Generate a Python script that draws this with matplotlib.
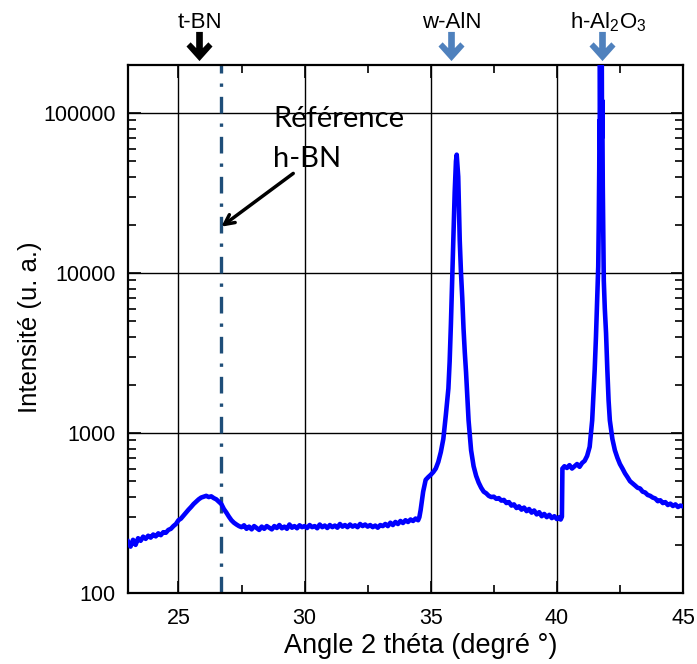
import matplotlib
matplotlib.use("Agg")
import matplotlib.pyplot as plt
from matplotlib.path import Path
from matplotlib.ticker import FixedLocator, LogLocator, NullFormatter

# ---------------- data ----------------
angle = [
    23.0, 23.1, 23.2, 23.3, 23.4, 23.5, 23.6, 23.7, 23.8, 23.9,
    24.0, 24.1, 24.2, 24.3, 24.4, 24.5, 24.6, 24.7, 24.8, 24.9,
    25.0, 25.1, 25.2, 25.3, 25.4, 25.5, 25.6, 25.7, 25.8, 25.9,
    26.0, 26.1, 26.2, 26.3, 26.4, 26.5, 26.6, 26.7, 26.8, 26.9,
    27.0, 27.1, 27.2, 27.3, 27.4, 27.5, 27.6, 27.7, 27.8, 27.9,
    28.0, 28.1, 28.2, 28.3, 28.4, 28.5, 28.6, 28.7, 28.8, 28.9,
    29.0, 29.1, 29.2, 29.3, 29.4, 29.5, 29.6, 29.7, 29.8, 29.9,
    30.0, 30.1, 30.2, 30.3, 30.4, 30.5, 30.6, 30.7, 30.8, 30.9,
    31.0, 31.1, 31.2, 31.3, 31.4, 31.5, 31.6, 31.7, 31.8, 31.9,
    32.0, 32.1, 32.2, 32.3, 32.4, 32.5, 32.6, 32.7, 32.8, 32.9,
    33.0, 33.1, 33.2, 33.3, 33.4, 33.5, 33.6, 33.7, 33.8, 33.9,
    34.0, 34.1, 34.2, 34.3, 34.4, 34.5, 34.55, 34.6, 34.7, 34.8, 34.9,
    35.0, 35.1, 35.2, 35.3, 35.4, 35.5, 35.6, 35.7, 35.75, 35.8, 35.85,
    35.9, 35.95, 36.0, 36.03, 36.06, 36.09, 36.12, 36.15, 36.2, 36.25,
    36.3, 36.35, 36.4, 36.45, 36.5, 36.55, 36.6, 36.7, 36.8, 36.9,
    37.0, 37.1, 37.2, 37.3, 37.4, 37.5, 37.6, 37.7, 37.8, 37.9,
    38.0, 38.1, 38.2, 38.3, 38.4, 38.5, 38.6, 38.7, 38.8, 38.9,
    39.0, 39.1, 39.2, 39.3, 39.4, 39.5, 39.6, 39.7, 39.8, 39.9,
    40.0, 40.1, 40.15, 40.2, 40.22, 40.3, 40.4, 40.5, 40.6, 40.7,
    40.8, 40.9, 41.0, 41.1, 41.2, 41.3, 41.4, 41.5, 41.55, 41.6,
    41.64, 41.66, 41.68, 41.69, 41.70, 41.71, 41.72, 41.73, 41.75, 41.76,
    41.77, 41.78, 41.79, 41.80, 41.82, 41.84, 41.86,
    41.9, 41.95, 42.0, 42.05, 42.1, 42.2, 42.3, 42.4, 42.5, 42.6,
    42.7, 42.8, 42.9, 43.0, 43.1, 43.2, 43.3, 43.4, 43.5, 43.6,
    43.7, 43.8, 43.9, 44.0, 44.1, 44.2, 44.3, 44.4, 44.5, 44.6,
    44.7, 44.8, 44.9, 45.0,
]
intensity = [
    210, 195, 215, 200, 220, 212, 225, 218, 228, 222,
    232, 226, 236, 230, 240, 238, 248, 252, 262, 270,
    285, 292, 305, 318, 332, 345, 360, 372, 385, 395,
    400, 405, 398, 402, 392, 385, 372, 360, 335, 318,
    300, 285, 275, 268, 262, 258, 265, 252, 260, 250,
    262, 255, 248, 260, 252, 262, 256, 250, 262, 255,
    266, 254, 260, 252, 268, 256, 262, 254, 265, 258,
    262, 255, 266, 258, 262, 254, 268, 258, 264, 255,
    266, 258, 264, 256, 270, 260, 266, 258, 268, 260,
    265, 258, 270, 262, 268, 260, 266, 258, 264, 256,
    266, 262, 270, 262, 275, 266, 278, 270, 282, 274,
    285, 278, 288, 282, 292, 285, 298, 330, 430, 510, 530,
    548, 570, 600, 660, 760, 920, 1300, 1900, 2800, 4800, 9000,
    17000, 32000, 50000, 55000, 47000, 40000, 26000, 16000, 10000, 7000,
    4500, 3200, 2400, 1700, 1200, 960, 780, 620, 540, 490,
    455, 430, 420, 405, 398, 400, 388, 392, 378, 382,
    365, 370, 352, 358, 340, 348, 332, 342, 325, 335,
    318, 328, 310, 320, 302, 312, 298, 308, 294, 302,
    290, 298, 288, 300, 600, 620, 605, 630, 600, 620,
    640, 615, 650, 670, 720, 820, 1200, 2500, 4000, 7000,
    11000, 20000, 45000, 90000, 60000, 200000, 90000, 300000, 120000, 300000,
    110000, 250000, 70000, 120000, 35000, 18000, 9000,
    6000, 4200, 2500, 1600, 1200, 920, 780, 700, 640, 600,
    560, 530, 500, 485, 470, 455, 450, 430, 425, 410,
    405, 395, 390, 375, 380, 365, 370, 355, 362, 350,
    358, 345, 352, 348,
]

x_limits = [23, 45]
y_limits = [100, 200000]
x_major = [25, 30, 35, 40, 45]
x_minor = [27.5, 32.5, 37.5, 42.5]
y_major = [100, 1000, 10000, 100000]
y_tick_labels = ["100", "1000", "10000", "100000"]

ref_hbn = 26.7                       # h-BN reference line
ref_arrow_tip = (26.7, 19500)
ref_arrow_tail = (29.55, 42000)
ref_text_lines = ["Référence", "h-BN"]
ref_text_x = 28.75
ref_text_y = [82000, 46100]

phase_names = ["t-BN", "w-AlN", r"h-Al$_\mathregular{2}$O$_\mathregular{3}$"]
phase_pos = [25.82, 35.80, 41.80]
phase_label_pos = [25.86, 35.84, 42.05]
phase_colors = ["#000000", "#4F81BD", "#4F81BD"]

x_label = "Angle 2 théta (degré °)"
y_label = "Intensité (u. a.)"

# ---------------- figure ----------------
plt.rcParams["font.family"] = ["Liberation Sans", "DejaVu Sans"]
fig = plt.figure(figsize=(6.97, 6.64), dpi=100)
ax = fig.add_axes([128 / 697, 1 - 593 / 664, (683 - 128) / 697, (593 - 65) / 664])

ax.plot(angle, intensity, color="#0000FF", lw=3.3, zorder=3)
ax.set_yscale("log")
ax.set_xlim(*x_limits)
ax.set_ylim(*y_limits)

ax.xaxis.set_major_locator(FixedLocator(x_major))
ax.xaxis.set_minor_locator(FixedLocator(x_minor))
ax.yaxis.set_major_locator(FixedLocator(y_major))
ax.set_yticklabels(y_tick_labels)
ax.yaxis.set_minor_locator(LogLocator(base=10, subs=range(2, 10)))
ax.yaxis.set_minor_formatter(NullFormatter())

ax.grid(True, which="major", color="black", lw=1.0, zorder=1)
ax.tick_params(which="both", direction="in", top=True, right=True,
               labelsize=15.5, color="black", width=1.2)
ax.tick_params(which="major", length=9)
ax.tick_params(which="minor", length=6)
ax.tick_params(axis="x", which="major", pad=11)
ax.tick_params(axis="y", which="major", pad=9)
for sp in ax.spines.values():
    sp.set_linewidth(1.6)

ax.set_xlabel(x_label, fontsize=19.5)
ax.xaxis.label.set_va("baseline")
ax.xaxis.set_label_coords(0.527, -(653.3 - 593) / 528)
ax.set_ylabel(y_label, fontsize=18.5)
ax.yaxis.label.set_va("baseline")
ax.yaxis.set_label_coords(-(128 - 37) / 555, 0.504)

# reference h-BN dash-dot line
ax.axvline(ref_hbn, color="#1F4E79", lw=2.4, dashes=(5, 3, 1, 3), zorder=2)

# annotation
ax.annotate("", xy=ref_arrow_tip, xytext=ref_arrow_tail,
            arrowprops=dict(arrowstyle="->,head_length=0.7,head_width=0.35",
                            color="black", lw=2.5, shrinkA=0, shrinkB=0),
            zorder=5)
for line, yv in zip(ref_text_lines, ref_text_y):
    ax.text(ref_text_x, yv, line, fontsize=21,
            family=["Lato", "DejaVu Sans"], ha="left", va="baseline", zorder=5)

# phase arrows above the axes
arrow_path = Path([
    (0, -14), (12.5, 0), (8.5, 4), (3.2, -1.5), (3.2, 14), (-3.2, 14),
    (-3.2, -1.5), (-8.5, 4), (-12.5, 0), (0, -14),
], closed=True)
trans_x = ax.get_xaxis_transform()
for name, xp, xl, col in zip(phase_names, phase_pos, phase_label_pos, phase_colors):
    ax.plot([xp], [1 + 19 / 528], marker=arrow_path, markersize=21,
            color=col, transform=trans_x, clip_on=False, zorder=6,
            markeredgewidth=0)
    ax.text(xl, 1 + (65 - 28.3) / 528, name, transform=trans_x, ha="center",
            va="baseline", fontsize=16)

fig.savefig("out.png", dpi=100)
